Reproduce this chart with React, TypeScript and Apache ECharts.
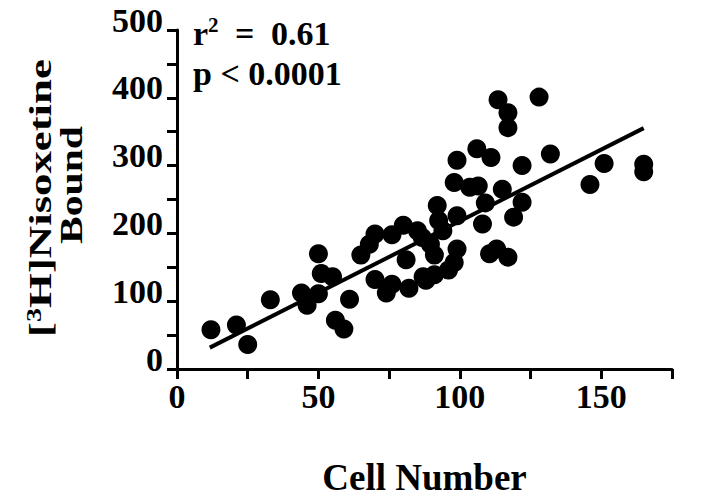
import React, { useEffect, useRef } from 'react';
import * as echarts from 'echarts';

const cellNumber = [
  12, 21, 25, 33, 44, 46, 50, 51, 50, 55,
  56, 59, 61, 65, 68, 70, 70, 74, 76, 76,
  80, 81, 82, 85, 87, 88, 91, 92, 92.5, 94,
  91, 96, 98, 99, 99, 98, 99, 106, 111, 103.5,
  106.5, 109, 108, 110.5, 113, 117, 113.5, 117, 117, 115,
  122, 122, 119, 128, 132, 146, 151, 165, 165, 86.7,
  89.6,
];
const isoxetineBound = [
  58, 65, 36, 102, 112, 94, 170, 141, 111, 136,
  72, 59, 103, 168, 184, 199, 132, 112, 125, 198,
  212, 161, 119, 204, 136, 131, 139, 241, 219, 204,
  168, 146, 157, 177, 226, 275, 308, 325, 312, 268,
  270, 245, 214, 170, 177, 165, 397, 378, 356, 265,
  300, 246, 224, 401, 317, 272, 303, 302, 291, 194,
  184,
];
const xTickLabels = ['0', '50', '100', '150'];
const yTickLabels = ['0', '100', '200', '300', '400', '500'];
const fitSlope = 2.11;
const fitIntercept = 7.1;
const fitXRange = [11.6, 165];
const statR2 = '0.61';
const statP = '< 0.0001';

export default function App() {
  const ref = useRef<HTMLDivElement>(null);
  useEffect(() => {
    const chart = echarts.init(ref.current!, null, { renderer: 'svg' });
    const font = '"Liberation Serif", "Times New Roman", serif';
    const points = cellNumber.map((x, i) => [x, isoxetineBound[i]]);
    const fitLine = fitXRange.map((x) => [x, fitIntercept + fitSlope * x]);
    const boldText = { fontFamily: font, fontWeight: 'bold', fill: '#000' };
    chart.setOption({
      animation: false,
      backgroundColor: '#ffffff',
      grid: { left: 177, right: 48, top: 30, bottom: 117, containLabel: false },
      xAxis: {
        type: 'value',
        min: 0,
        max: 175,
        interval: 25,
        axisLine: { lineStyle: { color: '#000', width: 3 } },
        axisTick: { length: 10, lineStyle: { color: '#000', width: 3 } },
        splitLine: { show: false },
        axisLabel: {
          formatter: (v: number) => (xTickLabels.includes(String(v)) ? String(v) : ''),
          color: '#000',
          fontFamily: font,
          fontWeight: 'bold',
          fontSize: 34,
          margin: 10,
        },
        name: 'Cell Number',
        nameLocation: 'middle',
        nameGap: 90,
        nameTextStyle: { color: '#000', fontFamily: font, fontWeight: 'bold', fontSize: 37 },
      },
      yAxis: {
        type: 'value',
        min: 0,
        max: 500,
        interval: 50,
        axisLine: { lineStyle: { color: '#000', width: 3 } },
        axisTick: { length: 10, lineStyle: { color: '#000', width: 3 } },
        splitLine: { show: false },
        axisLabel: {
          formatter: (v: number) => (yTickLabels.includes(String(v)) ? String(v) : ''),
          color: '#000',
          fontFamily: font,
          fontWeight: 'bold',
          fontSize: 34,
          lineHeight: 20,
          margin: 14,
          verticalAlign: 'bottom',
        },
      },
      series: [
        {
          type: 'scatter',
          data: points,
          symbol: 'circle',
          symbolSize: 19,
          itemStyle: { color: '#000', opacity: 1 },
        },
        {
          type: 'line',
          data: fitLine,
          showSymbol: false,
          symbol: 'none',
          lineStyle: { color: '#000', width: 4 },
        },
      ],
      graphic: [
        {
          type: 'text',
          x: 193,
          y: 14,
          style: {
            text: '{a|r}{s|2}{e| = }{a|' + statR2 + '}',
            rich: {
              a: { ...boldText, fontSize: 34, lineHeight: 38 },
              e: { ...boldText, fontSize: 34, lineHeight: 38, padding: [0, 8, 0, 8] },
              s: { ...boldText, fontSize: 21, verticalAlign: 'top', lineHeight: 38 },
            },
          },
        },
        {
          type: 'text',
          x: 193,
          y: 56,
          style: { ...boldText, text: 'p ' + statP, fontSize: 34 },
        },
        {
          type: 'text',
          x: 40,
          y: 198,
          rotation: Math.PI / 2,
          scaleX: 1.4,
          style: {
            text: '{a|[}{s|3}{a|H]Nisoxetine}',
            align: 'center',
            verticalAlign: 'middle',
            rich: {
              a: { ...boldText, fontSize: 32, lineHeight: 32 },
              s: { ...boldText, fontSize: 20, verticalAlign: 'top', lineHeight: 32 },
            },
          },
        },
        {
          type: 'text',
          x: 71,
          y: 185,
          rotation: Math.PI / 2,
          scaleX: 1.3,
          style: {
            ...boldText,
            text: 'Bound',
            fontSize: 32,
            align: 'center',
            verticalAlign: 'middle',
          },
        },
      ],
    });
    return () => chart.dispose();
  }, []);
  return (
    <div
      ref={ref}
      style={{ position: 'fixed', left: 0, top: 0, width: 720, height: 501, background: '#fff' }}
    />
  );
}
